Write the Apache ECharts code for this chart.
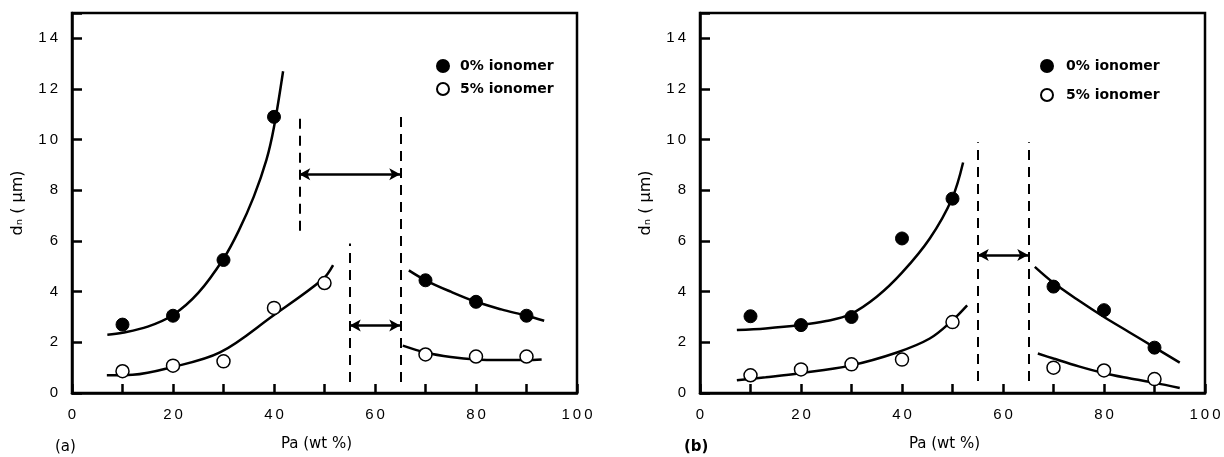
<!DOCTYPE html>
<html>
<head>
<meta charset="utf-8">
<script src="https://cdn.jsdelivr.net/npm/echarts@6/dist/echarts.min.js"></script>
<style>
  html, body { margin: 0; padding: 0; background: #fff; }
  #chart { width: 1224px; height: 457px; }
</style>
</head>
<body>
<div id="chart"></div>
<script>
// panel (a): measured points [Pa wt%, dn um]
const aFilled = [[10, 2.7], [20, 3.05], [30, 5.25], [40, 10.9], [70, 4.45], [80, 3.6], [90, 3.05]];
const aOpen = [[10, 0.86], [20, 1.08], [30, 1.25], [40, 3.36], [50, 4.34], [70, 1.52], [80, 1.44], [90, 1.44]];
// fitted curves
const aFilledFitL = [[7, 2.3], [10, 2.38], [15, 2.62], [20, 3.08], [25, 3.95], [30, 5.3], [33, 6.4], [36, 7.75], [38.5, 9.2], [40, 10.5], [41.8, 12.7]];
const aFilledFitR = [[66.7, 4.84], [70, 4.45], [75, 4.0], [80, 3.6], [85, 3.3], [90, 3.05], [93.5, 2.85]];
const aOpenFitL = [[6.9, 0.7], [12, 0.72], [19.4, 1.0], [29.3, 1.6], [39.8, 3.05], [49.7, 4.5], [51.7, 5.05]];
const aOpenFitR = [[65.5, 1.87], [70, 1.6], [75, 1.42], [80, 1.32], [85, 1.3], [90, 1.3], [93, 1.32]];
// dashed boundaries [x, yFrom, yTo] and double arrows [xFrom, xTo, y]
const aDashes = [[45, 6.4, 10.9], [65, 0.43, 10.9], [55, 0.43, 5.9]];
const aArrows = [[45, 65, 8.63], [55, 65, 2.66]];

// panel (b)
const bFilled = [[10, 3.03], [20, 2.68], [30, 3.0], [40, 6.1], [50, 7.67], [70, 4.2], [80, 3.27], [90, 1.79]];
const bOpen = [[10, 0.7], [20, 0.93], [30, 1.13], [40, 1.32], [50, 2.8], [70, 1.0], [80, 0.89], [90, 0.55]];
const bFilledFitL = [[7.3, 2.49], [13, 2.55], [19.8, 2.68], [25, 2.84], [29.7, 3.1], [35, 3.8], [40, 4.75], [45.5, 6.1], [49.9, 7.67], [52.1, 9.1]];
const bFilledFitR = [[66.3, 4.98], [70, 4.35], [75, 3.65], [80, 3.0], [85, 2.4], [90, 1.8], [95, 1.2]];
const bOpenFitL = [[7.3, 0.5], [13, 0.62], [19.8, 0.78], [29.7, 1.08], [39, 1.6], [45.5, 2.15], [49.9, 2.85], [52.9, 3.46]];
const bOpenFitR = [[66.9, 1.56], [70, 1.36], [75, 1.05], [80, 0.78], [85, 0.58], [90, 0.4], [95, 0.2]];
const bDashes = [[55, 0.47, 9.9], [65, 0.47, 9.9]];
const bArrows = [[55, 65, 5.45]];

const xTicks = [0, 100, 10];
const yTicks = [0, 15, 2];

const NAME_FILLED = '0% ionomer';
const NAME_OPEN = '5% ionomer';

const chart = echarts.init(document.getElementById('chart'));

const spaced = v => String(v).split('').join('\u2009');
const labelFont = { color: '#000', fontFamily: 'Liberation Sans', fontSize: 15 };

function xAxisFor(i) {
    return {
        type: 'value', gridIndex: i, min: xTicks[0], max: xTicks[1], interval: xTicks[2],
        name: 'Pa (wt %)', nameLocation: 'middle', nameGap: 44,
        nameTextStyle: { color: '#000', fontFamily: 'DejaVu Sans', fontSize: 15, padding: [0, 16, 0, 0] },
        axisLine: { lineStyle: { color: '#000', width: 2.5 } },
        axisTick: { inside: true, length: 9, lineStyle: { color: '#000', width: 2.5 } },
        axisLabel: Object.assign({ margin: 14, formatter: v => (v % 20 === 0 ? spaced(v) : '') }, labelFont),
        splitLine: { show: false }
    };
}

function yAxisFor(i) {
    return {
        type: 'value', gridIndex: i, min: yTicks[0], max: yTicks[1], interval: yTicks[2],
        name: 'd\u2099 ( \u03bcm)', nameLocation: 'middle', nameRotate: 90, nameGap: 46,
        nameTextStyle: { color: '#000', fontFamily: 'DejaVu Sans', fontSize: 16 },
        axisLine: { lineStyle: { color: '#000', width: 2.5 } },
        axisTick: { inside: true, length: 10, lineStyle: { color: '#000', width: 2.5 } },
        axisLabel: Object.assign({ margin: 14, formatter: v => (v > 14 ? '' : spaced(v)) }, labelFont),
        splitLine: { show: false }
    };
}

function curve(i, data, extra) {
    return Object.assign({
        type: 'line', xAxisIndex: i, yAxisIndex: i, data: data, smooth: 0.35,
        showSymbol: false, symbol: 'none', silent: true, z: 2,
        lineStyle: { color: '#000', width: 2.5 }
    }, extra || {});
}

function boundaries(dashes, arrows) {
    const lines = dashes.map(d => [
        { coord: [d[0], d[1]], symbol: 'none', lineStyle: { type: [10, 7], width: 2, color: '#000' } },
        { coord: [d[0], d[2]], symbol: 'none' }
    ]);
    arrows.forEach(a => lines.push([
        { coord: [a[0], a[2]], symbol: 'arrow', lineStyle: { type: 'solid', width: 2.5, color: '#000' } },
        { coord: [a[1], a[2]], symbol: 'arrow' }
    ]));
    return {
        silent: true, symbolSize: [9, 11], label: { show: false },
        lineStyle: { color: '#000' }, emphasis: { disabled: true },
        data: lines
    };
}

function panelSeries(i, filled, open, fits, dashes, arrows) {
    const list = [];
    fits.forEach((f, k) => list.push(curve(i, f, k === 0 ? { markLine: boundaries(dashes, arrows) } : {})));
    list.push({
        name: NAME_FILLED, type: 'scatter', xAxisIndex: i, yAxisIndex: i, data: filled,
        symbol: 'circle', symbolSize: 13, z: 5,
        itemStyle: { color: '#000', borderColor: '#000', borderWidth: 1, opacity: 1 }
    });
    list.push({
        name: NAME_OPEN, type: 'scatter', xAxisIndex: i, yAxisIndex: i, data: open,
        symbol: 'circle', symbolSize: 13, z: 5,
        itemStyle: { color: '#fff', borderColor: '#000', borderWidth: 1.5, opacity: 1 }
    });
    return list;
}

const legendText = { color: '#000', fontFamily: 'DejaVu Sans', fontSize: 14, fontWeight: 'bold' };

chart.setOption({
    animation: false,
    backgroundColor: '#fff',
    grid: [
        { left: 72, top: 13, width: 505, height: 383, show: true, borderColor: '#000', borderWidth: 2.5 },
        { left: 700, top: 13, width: 505, height: 384, show: true, borderColor: '#000', borderWidth: 2.5 }
    ],
    xAxis: [xAxisFor(0), xAxisFor(1)],
    yAxis: [yAxisFor(0), yAxisFor(1)],
    legend: [
        {
            left: 431, top: 54, orient: 'vertical', itemGap: 9, itemWidth: 12, itemHeight: 12,
            data: [NAME_FILLED, NAME_OPEN], selectedMode: false,
            textStyle: Object.assign({ padding: [0, 0, 0, 6] }, legendText)
        },
        {
            left: 1035, top: 54, orient: 'vertical', itemGap: 15, itemWidth: 12, itemHeight: 12,
            data: [NAME_FILLED, NAME_OPEN], selectedMode: false,
            textStyle: Object.assign({ padding: [0, 0, 0, 8] }, legendText)
        }
    ],
    graphic: [
        { type: 'text', left: 55, top: 440, style: { text: '(a)', fill: '#000', font: '15px "DejaVu Sans"' } },
        { type: 'text', left: 684, top: 440, style: { text: '(b)', fill: '#000', font: 'bold 15px "DejaVu Sans"' } }
    ],
    series: [].concat(
        panelSeries(0, aFilled, aOpen, [aFilledFitL, aFilledFitR, aOpenFitL, aOpenFitR], aDashes, aArrows),
        panelSeries(1, bFilled, bOpen, [bFilledFitL, bFilledFitR, bOpenFitL, bOpenFitR], bDashes, bArrows)
    )
});
</script>
</body>
</html>
